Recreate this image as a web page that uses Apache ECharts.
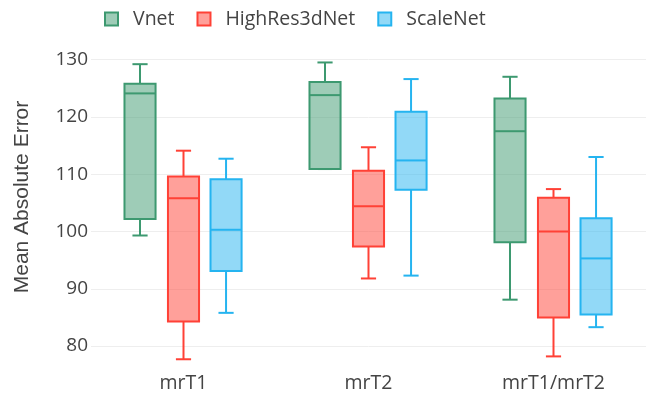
<!DOCTYPE html>
<html>
<head>
<meta charset="utf-8">
<script src="https://cdn.jsdelivr.net/npm/echarts@6/dist/echarts.min.js"></script>
<style>html,body{margin:0;padding:0;background:#fff;}#chart{width:652px;height:404px;}</style>
</head>
<body>
<div id="chart"></div>
<script>
// Categories and series names
var categories = ['mrT1', 'mrT2', 'mrT1/mrT2'];
var seriesNames = ['Vnet', 'HighRes3dNet', 'ScaleNet'];
// Each entry: [min, Q1, median, Q3, max]
var vnet = [
  [99.3, 102.2, 124.1, 125.8, 129.2],
  [110.9, 110.9, 123.8, 126.1, 129.5],
  [88.1, 98.1, 117.5, 123.2, 127.0]
];
var highRes = [
  [77.7, 84.3, 105.8, 109.6, 114.1],
  [91.8, 97.4, 104.4, 110.6, 114.7],
  [78.2, 85.0, 100.0, 105.9, 107.4]
];
var scaleNet = [
  [85.8, 93.1, 100.3, 109.1, 112.7],
  [92.3, 107.3, 112.4, 120.9, 126.6],
  [83.3, 85.5, 95.3, 102.3, 113.0]
];
var yTicks = [80, 90, 100, 110, 120, 130];

var lineColors = ['#3D9970', '#FF4136', '#25B4F0'];
var fillColors = ['rgba(61,153,112,0.5)', 'rgba(255,65,54,0.5)', 'rgba(37,180,240,0.5)'];
var offsets = [-0.235, 0, 0.23];
var boxFrac = 0.168;
var capFrac = 0.082;

function toData(arr) {
  return arr.map(function (v, i) { return [i, v[0], v[1], v[2], v[3], v[4]]; });
}

function makeRender(k) {
  return function (params, api) {
    var cat = api.value(0);
    var band = api.size([1, 0])[0];
    var cx = api.coord([cat, 0])[0] + offsets[k] * band;
    var hw = boxFrac * band / 2;
    var cw = capFrac * band / 2;
    var y = [];
    for (var i = 1; i <= 5; i++) y.push(api.coord([cat, api.value(i)])[1]);
    var ls = { stroke: lineColors[k], lineWidth: 2 };
    return {
      type: 'group',
      children: [
        { type: 'line', shape: { x1: cx, y1: y[4], x2: cx, y2: y[3] }, style: ls },
        { type: 'line', shape: { x1: cx, y1: y[0], x2: cx, y2: y[1] }, style: ls },
        { type: 'line', shape: { x1: cx - cw, y1: y[4], x2: cx + cw, y2: y[4] }, style: ls },
        { type: 'line', shape: { x1: cx - cw, y1: y[0], x2: cx + cw, y2: y[0] }, style: ls },
        { type: 'rect', shape: { x: cx - hw, y: y[3], width: 2 * hw, height: y[1] - y[3] },
          style: { fill: fillColors[k], stroke: lineColors[k], lineWidth: 2 } },
        { type: 'line', shape: { x1: cx - hw, y1: y[2], x2: cx + hw, y2: y[2] }, style: ls }
      ]
    };
  };
}

var dataSets = [vnet, highRes, scaleNet];
var series = seriesNames.map(function (name, k) {
  return {
    name: name,
    type: 'custom',
    renderItem: makeRender(k),
    itemStyle: { color: fillColors[k], borderColor: lineColors[k], borderWidth: 2 },
    encode: { x: 0, y: [1, 2, 3, 4, 5] },
    data: toData(dataSets[k])
  };
});

var chart = echarts.init(document.getElementById('chart'));
chart.setOption({
  animation: false,
  backgroundColor: '#ffffff',
  legend: {
    top: 4,
    left: 99,
    itemWidth: 13,
    itemHeight: 13,
    itemGap: 22,
    icon: 'rect',
    textStyle: { fontFamily: 'Open Sans', fontSize: 19.5, color: '#444', padding: [0, 0, 0, 10] },
    data: seriesNames.map(function (n, k) {
      return { name: n, itemStyle: { color: fillColors[k], borderColor: lineColors[k], borderWidth: 2 } };
    })
  },
  grid: { left: 91, right: 6, top: 51, bottom: 35, containLabel: false },
  xAxis: {
    type: 'category',
    data: categories,
    axisLine: { show: false },
    axisTick: { show: false },
    axisLabel: { fontFamily: 'Open Sans', fontSize: 19.5, color: '#444', margin: 4 },
    splitLine: { show: false }
  },
  yAxis: {
    type: 'value',
    min: 76,
    max: 131.5,
    name: 'Mean Absolute Error',
    nameLocation: 'middle',
    nameGap: 58,
    nameTextStyle: { fontFamily: 'Liberation Sans', fontSize: 21, color: '#444', padding: [0, 0, 0, 26] },
    axisLine: { show: false },
    axisTick: { show: false },
    axisLabel: {
      fontFamily: 'Open Sans', fontSize: 19, color: '#444', margin: 3,
      showMinLabel: false, showMaxLabel: false,
      formatter: function (v) { return yTicks.indexOf(v) >= 0 ? String(v) : ''; }
    },
    splitLine: { show: true, showMinLine: false, showMaxLine: false, lineStyle: { color: '#eeeeee', width: 1 } }
  },
  series: series
});
</script>
</body>
</html>
